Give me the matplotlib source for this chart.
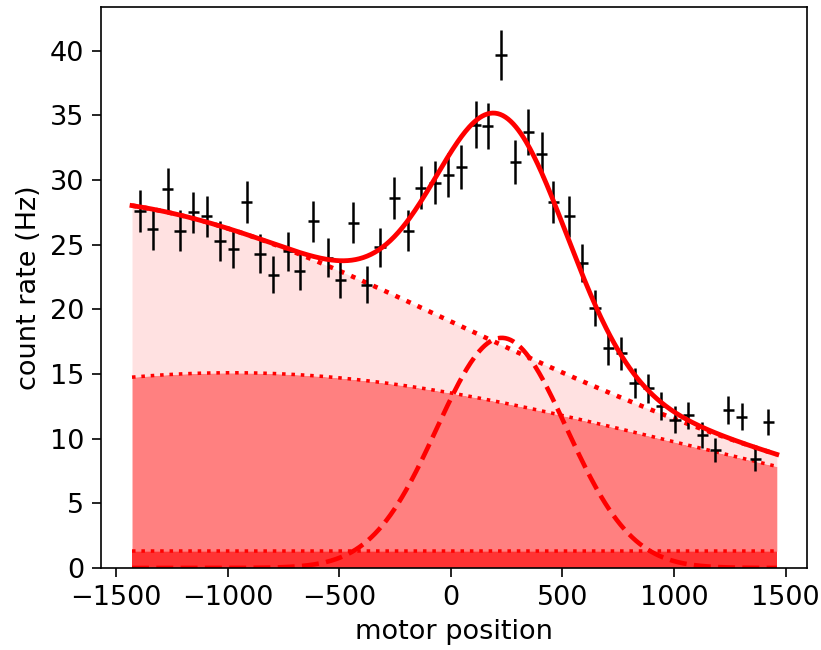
#!/usr/bin/env python3
"""
Scan of count rate vs motor position with a fitted model:
constant + broad background + sloping background + gaussian peak.
"""

import numpy as np
import matplotlib
matplotlib.use("Agg")
import matplotlib.pyplot as plt

# measured points
motor_pos = [-1392, -1336, -1268, -1213, -1154, -1094, -1034, -974, -914, -855,
             -795, -728, -676, -616, -552, -496, -437, -377, -317, -253,
             -190, -135, -71, -11, 46, 111, 165, 225, 288, 347,
             407, 459, 530, 589, 646, 706, 763, 825, 885, 942,
             1004, 1064, 1127, 1184, 1243, 1303, 1363, 1422]
rate = [27.6, 26.2, 29.3, 26.1, 27.5, 27.2, 25.3, 24.7, 28.3, 24.3,
        22.7, 24.5, 23.0, 26.8, 24.0, 22.3, 26.7, 21.9, 24.8, 28.6,
        26.1, 29.4, 29.8, 30.4, 31.0, 34.3, 34.2, 39.7, 31.4, 33.7,
        32.0, 28.3, 27.2, 23.6, 20.1, 17.0, 16.6, 14.3, 13.9, 12.5,
        11.45, 11.8, 10.3, 9.1, 12.2, 11.7, 8.4, 11.3]
rate_err = [1.61, 1.57, 1.66, 1.57, 1.61, 1.60, 1.54, 1.53, 1.63, 1.51,
            1.46, 1.52, 1.47, 1.59, 1.50, 1.45, 1.59, 1.44, 1.53, 1.64,
            1.57, 1.66, 1.68, 1.69, 1.71, 1.80, 1.80, 1.93, 1.72, 1.78,
            1.74, 1.63, 1.60, 1.49, 1.38, 1.27, 1.25, 1.16, 1.14, 1.09,
            1.04, 1.05, 0.99, 0.93, 1.07, 1.05, 0.89, 1.03]
pos_err = 25

# fit parameters
fit_range = (-1428, 1460)
const = 1.3
broad_amp, broad_cen, broad_sig = 13.8, -980.0, 2000.0
slope_amp, slope_cen, slope_sig = 14.9, -2169.0, 1540.0
peak_amp, peak_cen, peak_sig = 17.8, 228.0, 291.0


def gauss(x, a, mu, sig):
    return a * np.exp(-(x - mu) ** 2 / (2 * sig ** 2))


def main():
    plt.rcParams["font.size"] = 13

    x = np.linspace(fit_range[0], fit_range[1], 500)
    c = np.full_like(x, const)
    broad = gauss(x, broad_amp, broad_cen, broad_sig)
    slope = gauss(x, slope_amp, slope_cen, slope_sig)
    peak = gauss(x, peak_amp, peak_cen, peak_sig)

    lvl1 = c
    lvl2 = c + broad
    lvl3 = c + broad + slope
    total = lvl3 + peak

    fig = plt.figure(figsize=(821 / 150, 650 / 150), dpi=150)
    ax = fig.add_axes([0.1230, 0.1262, 0.8596, 0.8626])

    ax.fill_between(x, 0, lvl1, color="#ff3333", lw=0, zorder=1)
    ax.fill_between(x, lvl1, lvl2, color="#ff8080", lw=0, zorder=1)
    ax.fill_between(x, lvl2, lvl3, color="#ffe1e1", lw=0, zorder=1)

    ax.plot(x, lvl1, color="red", ls=":", lw=1.7, zorder=2)
    ax.plot(x, lvl2, color="red", ls=":", lw=1.7, zorder=2)
    ax.plot(x, lvl3, color="red", ls=":", lw=2.2, zorder=2)
    ax.plot(x, peak, color="red", ls="--", lw=2.2, zorder=2)

    ax.errorbar(motor_pos, rate, yerr=rate_err, xerr=pos_err, fmt="none",
                ecolor="black", elinewidth=1.2, zorder=3)
    ax.plot(x, total, color="red", lw=2.3, zorder=4)

    ax.set_xlim(-1567, 1594)
    ax.set_ylim(0, 43.37)
    ax.set_xticks([-1500, -1000, -500, 0, 500, 1000, 1500])
    ax.set_yticks(range(0, 45, 5))
    ax.tick_params(length=4.5)
    ax.set_xlabel("motor position")
    ax.set_ylabel("count rate (Hz)")

    fig.savefig("out.png", dpi=150)
    plt.close(fig)


if __name__ == "__main__":
    main()
